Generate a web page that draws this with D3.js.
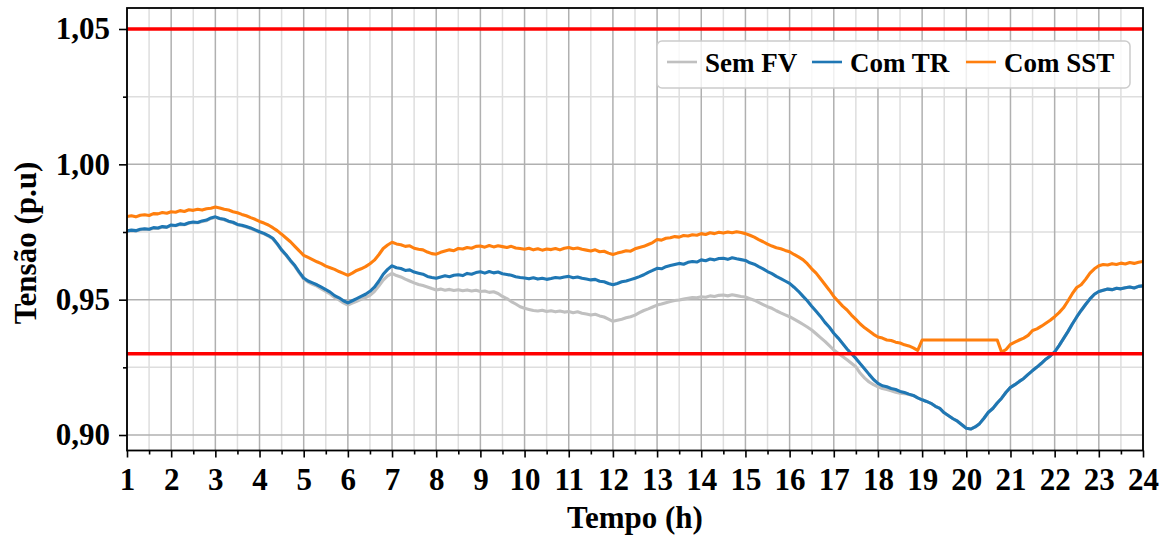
<!DOCTYPE html>
<html>
<head>
<meta charset="utf-8">
<script src="https://cdn.jsdelivr.net/npm/d3@7"></script>
<style>
  html, body { margin: 0; padding: 0; background: #fff; }
  svg { display: block; }
  text { font-family: "Liberation Serif", "Times New Roman", serif; font-weight: bold; fill: #000; }
</style>
</head>
<body>
<svg id="chart" width="1168" height="537"></svg>
<script>
// Tensão medida a cada 0,1 h, da hora 1 até a hora 24 (231 amostras por série)
const inicio = 1, passo = 0.1;

const semFV = [
  .9752, .9755, .9754, .9758, .9760, .9759, .9764, .9763, .9768, .9767,
  .9774, .9773, .9778, .9777, .9782, .9785, .9784, .9789, .9792, .9800,
  .9804, .9799, .9795, .9789, .9784, .9777, .9773, .9768, .9763, .9756,
  .9749, .9743, .9735, .9725, .9705, .9682, .9664, .9643, .9623, .9599,
  .9576, .9565, .9557, .9550, .9540, .9530, .9521, .9508, .9499, .9488,
  .9480, .9487, .9494, .9501, .9508, .9516, .9530, .9550, .9572, .9588,
  .9597, .9589, .9584, .9576, .9569, .9562, .9556, .9552, .9547, .9541,
  .9536, .9539, .9535, .9538, .9534, .9537, .9533, .9536, .9532, .9535,
  .9530, .9532, .9527, .9529, .9523, .9512, .9504, .9493, .9484, .9474,
  .9468, .9464, .9460, .9458, .9461, .9456, .9459, .9455, .9458, .9454,
  .9456, .9452, .9455, .9450, .9447, .9443, .9446, .9440, .9436, .9428,
  .9420, .9424, .9428, .9433, .9437, .9443, .9452, .9460, .9466, .9473,
  .9480, .9484, .9489, .9493, .9497, .9499, .9502, .9505, .9508, .9507,
  .9511, .9509, .9514, .9512, .9516, .9517, .9514, .9518, .9515, .9512,
  .9510, .9504, .9498, .9490, .9482, .9474, .9468, .9459, .9451, .9444,
  .9437, .9428, .9419, .9409, .9399, .9388, .9374, .9360, .9346, .9330,
  .9314, .9302, .9290, .9278, .9265, .9252, .9228, .9210, .9196, .9186,
  .9178, .9172, .9168, .9163, .9158, .9154, .9153, .9150, .9146, .9137,
  .9130, .9124, .9117, .9106, .9098, .9082, .9071, .9060, .9051, .9038,
  .9025, .9022, .9030, .9042, .9062, .9084, .9098, .9118, .9136, .9158,
  .9176, .9186, .9198, .9209, .9224, .9238, .9251, .9265, .9280, .9292,
  .9307, .9330, .9356, .9382, .9410, .9436, .9460, .9482, .9503, .9520,
  .9530, .9535, .9539, .9537, .9542, .9540, .9544, .9547, .9543, .9549,
  .9551
];

const comTR = [
  .9754, .9757, .9755, .9760, .9762, .9760, .9766, .9765, .9770, .9768,
  .9776, .9774, .9780, .9778, .9784, .9787, .9785, .9791, .9794, .9802,
  .9806, .9800, .9797, .9790, .9786, .9778, .9775, .9770, .9765, .9758,
  .9751, .9745, .9737, .9727, .9707, .9684, .9666, .9645, .9626, .9602,
  .9580, .9569, .9562, .9555, .9546, .9537, .9528, .9515, .9507, .9496,
  .9488, .9496, .9504, .9512, .9520, .9531, .9546, .9568, .9594, .9612,
  .9625, .9618, .9615, .9608, .9610, .9602, .9598, .9594, .9586, .9582,
  .9579, .9584, .9588, .9585, .9590, .9592, .9589, .9597, .9594, .9600,
  .9603, .9598, .9604, .9599, .9602, .9596, .9593, .9590, .9585, .9582,
  .9580, .9577, .9581, .9576, .9579, .9575, .9578, .9582, .9580, .9584,
  .9586, .9581, .9584, .9579, .9576, .9573, .9575, .9568, .9566, .9560,
  .9555, .9560, .9566, .9569, .9574, .9579, .9585, .9592, .9601, .9608,
  .9616, .9614, .9622, .9626, .9630, .9634, .9631, .9638, .9641, .9639,
  .9647, .9644, .9650, .9647, .9652, .9653, .9649, .9655, .9651, .9648,
  .9645, .9636, .9631, .9622, .9614, .9604, .9596, .9586, .9578, .9569,
  .9560, .9546, .9531, .9513, .9496, .9476, .9457, .9438, .9416, .9398,
  .9376, .9358, .9338, .9318, .9300, .9283, .9263, .9244, .9224, .9205,
  .9191, .9182, .9178, .9172, .9168, .9161, .9157, .9151, .9146, .9137,
  .9130, .9124, .9117, .9106, .9098, .9082, .9071, .9060, .9051, .9038,
  .9025, .9022, .9030, .9042, .9062, .9084, .9098, .9118, .9136, .9158,
  .9176, .9186, .9198, .9209, .9224, .9238, .9251, .9265, .9280, .9292,
  .9307, .9330, .9356, .9382, .9410, .9436, .9460, .9482, .9503, .9520,
  .9530, .9535, .9539, .9537, .9542, .9540, .9544, .9547, .9543, .9549,
  .9551
];

const comSST = [
  .9807, .9810, .9806, .9812, .9814, .9811, .9818, .9817, .9822, .9819,
  .9825, .9823, .9829, .9826, .9832, .9830, .9834, .9831, .9836, .9838,
  .9842, .9839, .9834, .9831, .9825, .9821, .9815, .9810, .9803, .9797,
  .9789, .9783, .9776, .9766, .9755, .9742, .9728, .9714, .9697, .9680,
  .9664, .9656, .9648, .9640, .9633, .9624, .9618, .9612, .9604, .9597,
  .9590, .9598, .9608, .9614, .9622, .9633, .9646, .9666, .9689, .9702,
  .9712, .9706, .9703, .9697, .9699, .9690, .9686, .9684, .9676, .9670,
  .9668, .9675, .9680, .9684, .9681, .9689, .9687, .9693, .9690, .9697,
  .9698, .9694, .9700, .9695, .9699, .9696, .9693, .9697, .9691, .9689,
  .9686, .9690, .9684, .9688, .9683, .9687, .9685, .9689, .9684, .9690,
  .9693, .9688, .9691, .9686, .9683, .9680, .9684, .9677, .9679, .9672,
  .9667, .9672, .9676, .9681, .9679, .9688, .9693, .9697, .9704, .9711,
  .9722, .9720, .9727, .9729, .9733, .9731, .9737, .9735, .9740, .9738,
  .9744, .9741, .9747, .9744, .9749, .9746, .9750, .9747, .9751, .9748,
  .9744, .9738, .9731, .9722, .9714, .9705, .9698, .9692, .9688, .9682,
  .9677, .9667, .9658, .9648, .9633, .9614, .9598, .9577, .9556, .9535,
  .9512, .9494, .9476, .9462, .9443, .9427, .9410, .9396, .9384, .9372,
  .9362, .9358, .9351, .9349, .9343, .9340, .9333, .9329, .9322, .9313,
  .9351, .9351, .9351, .9351, .9351, .9351, .9351, .9351, .9351, .9351,
  .9351, .9351, .9351, .9351, .9351, .9351, .9351, .9351, .9306, .9316,
  .9335, .9343, .9351, .9358, .9368, .9386, .9392, .9402, .9413, .9424,
  .9437, .9452, .9470, .9495, .9522, .9545, .9555, .9575, .9598, .9614,
  .9625, .9630, .9628, .9633, .9630, .9635, .9632, .9637, .9634, .9638,
  .9641
];

// Limites de tensão (p.u)
const limites = [1.05, 0.93];

// Marcas dos eixos
const horasTicks = d3.range(1, 25);
const horasMeias = d3.range(1.5, 24, 1);
const tensaoTicks = [0.90, 0.95, 1.00, 1.05];
const tensaoMeias = [0.925, 0.975, 1.025];

const seriesNomes = ["Sem FV", "Com TR", "Com SST"];
const seriesCores = ["#c0c0c0", "#1f77b4", "#ff7f0e"];
const seriesDados = [semFV, comTR, comSST];

const svg = d3.select("#chart");
const area = { left: 127, right: 1143, top: 8, bottom: 450.5 };

const x = d3.scaleLinear().domain([1, 24]).range([area.left, area.right]);
const y = d3.scaleLinear().domain([0.894273, 1.057759]).range([area.bottom, area.top]);

const br = d3.formatLocale({ decimal: ",", thousands: ".", grouping: [3], currency: ["R$", ""] });
const fmt = br.format(".2f");

// Grade secundária
const grade = svg.append("g");
grade.selectAll("line.vmin").data(horasMeias).join("line")
  .attr("x1", d => x(d)).attr("x2", d => x(d))
  .attr("y1", area.top).attr("y2", area.bottom)
  .attr("stroke", "#dedede").attr("stroke-width", 1.5);
grade.selectAll("line.hmin").data(tensaoMeias).join("line")
  .attr("x1", area.left).attr("x2", area.right)
  .attr("y1", d => y(d)).attr("y2", d => y(d))
  .attr("stroke", "#dedede").attr("stroke-width", 1.5);
// Grade principal
grade.append("g").selectAll("line").data(horasTicks).join("line")
  .attr("x1", d => x(d)).attr("x2", d => x(d))
  .attr("y1", area.top).attr("y2", area.bottom)
  .attr("stroke", "#b0b0b0").attr("stroke-width", 1.5);
grade.append("g").selectAll("line").data(tensaoTicks).join("line")
  .attr("x1", area.left).attr("x2", area.right)
  .attr("y1", d => y(d)).attr("y2", d => y(d))
  .attr("stroke", "#b0b0b0").attr("stroke-width", 1.5);

// Curvas
svg.append("clipPath").attr("id", "recorte").append("rect")
  .attr("x", area.left).attr("y", area.top)
  .attr("width", area.right - area.left).attr("height", area.bottom - area.top);

const linha = d3.line()
  .x((d, i) => x(inicio + i * passo))
  .y(d => y(d));

const curvas = svg.append("g").attr("clip-path", "url(#recorte)");
seriesDados.forEach((serie, k) => {
  curvas.append("path")
    .datum(serie)
    .attr("d", linha)
    .attr("fill", "none")
    .attr("stroke", seriesCores[k])
    .attr("stroke-width", 3.1)
    .attr("stroke-linejoin", "round");
});

// Limites
curvas.selectAll("line.lim").data(limites).join("line")
  .attr("x1", area.left).attr("x2", area.right)
  .attr("y1", d => y(d)).attr("y2", d => y(d))
  .attr("stroke", "#ff0000").attr("stroke-width", 3.5);

// Eixos
const eixoX = d3.axisBottom(x).tickValues(horasTicks).tickFormat(d3.format("d")).tickSize(7).tickPadding(10);
const eixoXmin = d3.axisBottom(x).tickValues(horasMeias).tickFormat("").tickSize(4);
const eixoY = d3.axisLeft(y).tickValues(tensaoTicks).tickFormat(fmt).tickSize(8).tickPadding(9);
const eixoYmin = d3.axisLeft(y).tickValues(tensaoMeias).tickFormat("").tickSize(4);

function estilo(g) {
  g.select(".domain").remove();
  g.selectAll(".tick line").attr("stroke", "#000").attr("stroke-width", 1.6);
  g.selectAll(".tick text").attr("font-size", 31).attr("font-family", "Liberation Serif").attr("font-weight", "bold").attr("fill", "#000");
}

svg.append("g").attr("transform", `translate(0,${area.bottom})`).call(eixoXmin).call(estilo);
svg.append("g").attr("transform", `translate(0,${area.bottom})`).call(eixoX).call(estilo);
svg.append("g").attr("transform", `translate(${area.left},0)`).call(eixoYmin).call(estilo);
svg.append("g").attr("transform", `translate(${area.left},0)`).call(eixoY).call(estilo);

// Moldura
svg.append("rect")
  .attr("x", area.left).attr("y", area.top)
  .attr("width", area.right - area.left).attr("height", area.bottom - area.top)
  .attr("fill", "none").attr("stroke", "#000").attr("stroke-width", 1.8);

// Títulos
svg.append("text")
  .attr("x", (area.left + area.right) / 2).attr("y", 528)
  .attr("text-anchor", "middle").attr("font-size", 31)
  .text("Tempo (h)");
svg.append("text")
  .attr("transform", "translate(36,243) rotate(-90)")
  .attr("text-anchor", "middle").attr("font-size", 31)
  .text("Tensão (p.u)");

// Legenda
const leg = svg.append("g").attr("transform", "translate(657,41)");
leg.append("rect")
  .attr("width", 473).attr("height", 47).attr("rx", 5).attr("ry", 5)
  .attr("fill", "#fff").attr("fill-opacity", 0.8)
  .attr("stroke", "#cccccc").attr("stroke-width", 1.5);
const legX = [10, 155, 309];
seriesNomes.forEach((nome, k) => {
  const g = leg.append("g").attr("transform", `translate(${legX[k]},0)`);
  g.append("line").attr("x1", 0).attr("x2", 30).attr("y1", 21).attr("y2", 21)
    .attr("stroke", seriesCores[k]).attr("stroke-width", 2.6);
  g.append("text").attr("x", 38).attr("y", 31).attr("font-size", 27).text(nome);
});
</script>
</body>
</html>
